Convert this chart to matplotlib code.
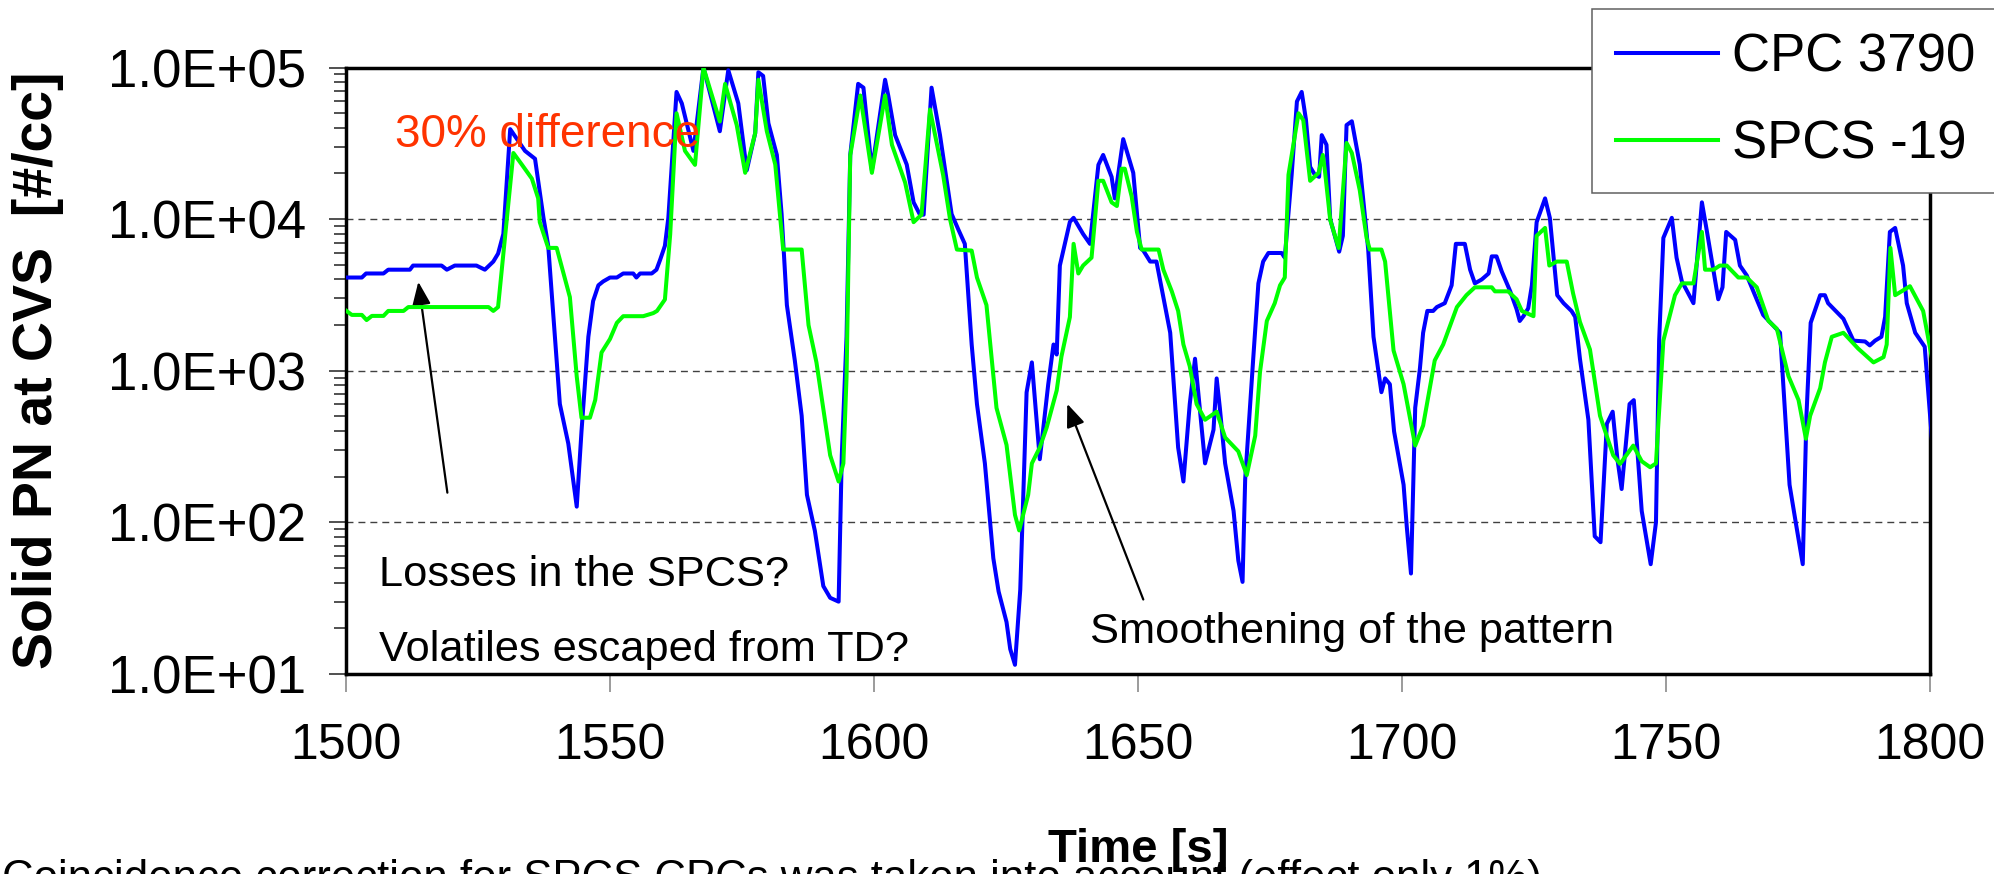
import matplotlib
matplotlib.use("Agg")
import matplotlib.pyplot as plt
from matplotlib.ticker import FixedLocator, LogLocator, FuncFormatter, NullFormatter

plt.rcParams['font.family'] = ['Liberation Sans', 'DejaVu Sans']

# ---- data -------------------------------------------------------------
cpc_time = [
    1500.1, 1503.0, 1503.8, 1507.1, 1508.0, 1512.1, 1512.7, 1518.1, 1519.1, 1520.6,
    1524.7, 1526.3, 1527.9, 1528.8, 1529.8, 1531.1, 1533.9, 1535.8, 1537.4, 1538.3,
    1540.5, 1542.1, 1543.7, 1544.6, 1545.9, 1546.8, 1547.8, 1548.7, 1550.0, 1551.3,
    1552.5, 1554.4, 1555.0, 1555.7, 1557.9, 1558.8, 1559.5, 1560.4, 1561.05, 1562.6,
    1563.6, 1565.8, 1567.7, 1570.8, 1572.4, 1574.3, 1575.9, 1577.5, 1578.1, 1579.0,
    1580.0, 1581.6, 1582.5, 1583.5, 1585.0, 1586.3, 1587.3, 1588.8, 1590.4, 1591.7,
    1593.3, 1593.9, 1594.8, 1595.5, 1597.0, 1598.0, 1599.6, 1602.1, 1602.7, 1604.0,
    1606.2, 1607.5, 1608.7, 1609.4, 1610.9, 1612.5, 1614.7, 1616.0, 1617.2, 1618.5,
    1619.5, 1621.0, 1622.6, 1623.6, 1625.1, 1625.8, 1626.7, 1627.7, 1628.9, 1629.9,
    1631.4, 1633.0, 1634.0, 1634.6, 1635.2, 1637.1, 1637.8, 1639.6, 1640.9, 1642.5,
    1643.4, 1645.0, 1645.6, 1647.2, 1649.1, 1650.4, 1651.0, 1652.3, 1653.5, 1656.1,
    1657.6, 1658.6, 1659.8, 1660.8, 1662.7, 1664.3, 1664.9, 1665.5, 1666.5, 1668.1,
    1669.0, 1669.8, 1670.3, 1671.8, 1672.8, 1673.7, 1674.7, 1677.2, 1677.8, 1679.1,
    1680.1, 1681.0, 1681.8, 1682.6, 1683.5, 1684.3, 1684.8, 1685.7, 1686.4, 1688.1,
    1688.8, 1689.5, 1690.5, 1692.0, 1693.0, 1693.6, 1694.6, 1696.1, 1696.8, 1697.7,
    1698.5, 1700.3, 1700.9, 1701.7, 1702.5, 1703.4, 1704.0, 1704.8, 1705.9, 1706.6,
    1708.1, 1709.4, 1710.2, 1711.9, 1712.9, 1713.8, 1715.1, 1716.4, 1717.0, 1717.9,
    1718.9, 1720.5, 1721.7, 1722.3, 1723.0, 1723.9, 1724.6, 1725.5, 1727.1, 1728.0,
    1729.4, 1730.6, 1732.1, 1732.8, 1733.7, 1735.3, 1736.5, 1737.6, 1738.8, 1739.9,
    1740.8, 1741.6, 1743.1, 1743.9, 1745.4, 1747.1, 1748.1, 1748.7, 1749.5, 1751.1,
    1752.0, 1753.0, 1755.2, 1756.8, 1757.7, 1759.9, 1760.7, 1761.4, 1763.1, 1764.0,
    1765.3, 1768.4, 1771.6, 1772.3, 1773.4, 1774.7, 1775.9, 1776.6, 1777.4, 1779.2,
    1780.1, 1780.7, 1783.6, 1785.5, 1787.7, 1788.6, 1789.6, 1790.8, 1791.5, 1792.4,
    1793.4, 1794.9, 1795.6, 1797.2, 1799.0, 1800.6, 1801.0,
]
cpc_pn = [
    4120, 4120, 4380, 4380, 4640, 4640, 4940, 4940, 4640, 4940,
    4940, 4640, 5250, 5920, 7980, 39200, 28200, 25000, 10200, 6670,
    604, 331, 127, 398, 1675, 2880, 3660, 3880, 4120, 4120,
    4380, 4380, 4120, 4380, 4380, 4640, 5400, 6670, 10200, 69000,
    58000, 28200, 100000, 38000, 96000, 58000, 21000, 36900, 93000, 88000,
    42900, 26500, 10800, 2710, 1170, 505, 152, 88, 38, 31.8,
    30, 277, 1675, 26500, 78000, 73600, 21000, 83000, 65300, 35800,
    22900, 12900, 10700, 10700, 73600, 35800, 10800, 8500, 6870, 1490,
    603, 245, 58, 35, 22, 14.6, 11.5, 36, 720, 1135,
    261, 815, 1490, 1280, 4940, 9600, 10200, 7980, 6870, 22800,
    26500, 19000, 13700, 33700, 20200, 6460, 6210, 5250, 5250, 1780,
    312, 186, 603, 1200, 245, 408, 890, 569, 245, 119,
    56, 40.5, 193, 1170, 3770, 5250, 5980, 5980, 5570, 19600,
    59700, 69000, 45500, 22100, 19600, 19000, 35800, 30900, 10000, 6100,
    7760, 41700, 44200, 22900, 10200, 6300, 1675, 722, 890, 815,
    398, 177, 94, 46, 570, 1040, 1780, 2480, 2480, 2630,
    2790, 3660, 6870, 6870, 4640, 3770, 4000, 4380, 5680, 5680,
    4510, 3340, 2550, 2130, 2290, 2580, 3660, 9550, 13700, 10200,
    3150, 2790, 2480, 2265, 1200, 475, 81, 74, 447, 537,
    261, 166, 603, 640, 119, 53, 100, 1580, 7520, 10200,
    5570, 3890, 2790, 12900, 8500, 2960, 3550, 8230, 7300, 4940,
    4250, 2335, 1780, 720, 177, 94, 53, 505, 2070, 3150,
    3150, 2790, 2200, 1580, 1560, 1470, 1580, 1675, 2265, 8230,
    8750, 4940, 2790, 1780, 1440, 277, 250,
]

spcs_time = [
    1500.1, 1501.1, 1503.0, 1503.9, 1504.9, 1507.1, 1508.0, 1510.9, 1511.8, 1527.0,
    1527.9, 1528.8, 1531.7, 1533.3, 1535.2, 1536.4, 1536.7, 1538.3, 1539.9, 1540.8,
    1542.4, 1543.7, 1544.6, 1546.2, 1547.2, 1548.4, 1550.0, 1551.3, 1552.5, 1556.3,
    1558.2, 1558.9, 1560.4, 1561.4, 1562.6, 1564.2, 1566.1, 1567.7, 1570.8, 1571.8,
    1574.0, 1575.6, 1577.5, 1578.1, 1579.7, 1581.3, 1582.8, 1586.3, 1587.6, 1589.1,
    1591.7, 1593.3, 1594.2, 1594.8, 1595.5, 1597.4, 1599.6, 1602.1, 1603.4, 1605.9,
    1607.5, 1609.0, 1610.6, 1613.1, 1614.4, 1615.7, 1618.5, 1619.5, 1621.3, 1623.2,
    1625.1, 1626.7, 1627.5, 1629.2, 1629.9, 1631.4, 1632.7, 1634.6, 1635.5, 1637.1,
    1637.8, 1638.7, 1639.6, 1641.2, 1642.5, 1643.4, 1645.0, 1646.0, 1646.9, 1647.5,
    1648.8, 1649.8, 1650.7, 1653.9, 1654.8, 1656.4, 1657.6, 1658.6, 1659.8, 1661.1,
    1662.7, 1664.9, 1666.5, 1669.0, 1670.6, 1672.2, 1673.1, 1674.4, 1675.9, 1676.9,
    1677.8, 1678.5, 1680.4, 1681.3, 1682.6, 1684.2, 1685.0, 1685.4, 1686.4, 1688.0,
    1689.5, 1690.5, 1692.0, 1693.3, 1693.9, 1696.1, 1696.8, 1698.4, 1700.3, 1702.5,
    1704.0, 1706.2, 1707.8, 1710.4, 1712.2, 1713.8, 1717.0, 1717.6, 1720.1, 1721.7,
    1722.7, 1724.9, 1725.5, 1727.1, 1727.9, 1729.3, 1731.2, 1732.4, 1733.7, 1735.6,
    1737.5, 1740.0, 1741.3, 1743.8, 1745.4, 1747.0, 1748.1, 1749.5, 1751.7, 1753.0,
    1755.2, 1756.8, 1757.4, 1759.0, 1760.2, 1761.5, 1763.7, 1765.3, 1767.2, 1769.4,
    1771.0, 1773.2, 1775.1, 1776.5, 1777.3, 1779.2, 1780.1, 1781.4, 1783.6, 1786.4,
    1789.3, 1791.2, 1791.8, 1792.5, 1793.4, 1796.2, 1798.7, 1800.6,
]
spcs_pn = [
    2480, 2335, 2335, 2160, 2300, 2300, 2480, 2480, 2630, 2630,
    2480, 2630, 27300, 22900, 18500, 13700, 9550, 6460, 6460, 4940,
    3060, 916, 490, 490, 641, 1320, 1620, 2070, 2290, 2290,
    2400, 2480, 2950, 7940, 49900, 28200, 22800, 100000, 44000, 78000,
    41700, 20200, 36900, 83000, 38000, 22900, 6300, 6300, 2000, 1135,
    277, 186, 245, 912, 26300, 65400, 20200, 65400, 30900, 17400,
    9550, 10700, 52800, 19500, 10000, 6300, 6200, 4120, 2710, 569,
    324, 112, 88.5, 152, 245, 312, 422, 741, 1240, 2260,
    6870, 4380, 4940, 5570, 17900, 17900, 12900, 12200, 21500, 21500,
    14100, 8230, 6300, 6300, 4640, 3340, 2480, 1490, 1070, 603,
    475, 537, 363, 294, 205, 373, 977, 2130, 2790, 3660,
    4120, 19600, 49900, 45000, 17900, 20200, 26500, 20900, 9900, 6450,
    31800, 27300, 15500, 7500, 6300, 6300, 5250, 1360, 815, 321,
    435, 1170, 1490, 2630, 3150, 3550, 3550, 3340, 3340, 2960,
    2480, 2290, 7760, 8750, 4940, 5250, 5250, 3240, 2100, 1380,
    505, 277, 243, 321, 253, 231, 245, 1580, 3150, 3770,
    3770, 8230, 4640, 4640, 4940, 4940, 4120, 4120, 3550, 2130,
    1890, 920, 641, 356, 505, 768, 1135, 1675, 1780, 1400,
    1135, 1230, 1490, 6460, 3150, 3610, 2480, 1100,
]

x_ticks = [1500, 1550, 1600, 1650, 1700, 1750, 1800]
y_ticks = [1e1, 1e2, 1e3, 1e4, 1e5]
series_labels = ["CPC 3790", "SPCS -19"]

# ---- figure -----------------------------------------------------------
W, H = 1994, 874
fig = plt.figure(figsize=(W / 100, H / 100), dpi=100)


def fpos(x, y):
    """figure-pixel position (from top-left) -> figure fraction"""
    return x / W, 1 - y / H


ax_l, ax_r, ax_t, ax_b = 346, 1930, 67.5, 674
ax = fig.add_axes([ax_l / W, 1 - ax_b / H, (ax_r - ax_l) / W, (ax_b - ax_t) / H])

l1, = ax.plot(cpc_time, cpc_pn, color="#0000ff", lw=2.9, label=series_labels[0], zorder=3)
l2, = ax.plot(spcs_time, spcs_pn, color="#00ff00", lw=2.9, label=series_labels[1], zorder=4)

ax.set_yscale("log")
ax.set_xlim(1500, 1800)
ax.set_ylim(10, 1e5)

ax.xaxis.set_major_locator(FixedLocator(x_ticks))
ax.yaxis.set_major_locator(FixedLocator(y_ticks))
ax.yaxis.set_minor_locator(LogLocator(base=10, subs=range(2, 10)))
ax.yaxis.set_minor_formatter(NullFormatter())
ax.yaxis.set_major_formatter(FuncFormatter(lambda v, _: f"{v:.1E}"))

ax.tick_params(axis="x", which="major", direction="out", length=13, width=1.1,
               color="#808080", labelsize=36, pad=22)
ax.tick_params(axis="y", which="major", direction="out", length=12, width=1.1,
               color="#202020", labelsize=38, pad=17)
ax.tick_params(axis="y", which="minor", direction="out", length=8.5, width=1.1,
               color="#202020")

for sp in ax.spines.values():
    sp.set_linewidth(2.5)
    sp.set_color("black")

ax.yaxis.grid(True, which="major", color="#404040", lw=1.0, dashes=(5, 3.6))
ax.set_axisbelow(True)

# axis titles
fig.text(*fpos(38, 370), "Solid PN at CVS  [#/cc]", rotation=90, ha="center",
         va="center", fontsize=40, fontweight="bold")
fig.text(*fpos(1138, 862), "Time [s]", ha="center", va="baseline",
         fontsize=34, fontweight="bold")

# annotations
fig.text(*fpos(395, 147), "30% difference", color="#ff3300", fontsize=33,
         va="baseline", ha="left")
fig.text(*fpos(379, 586), "Losses in the SPCS?", fontsize=31.2, va="baseline")
fig.text(*fpos(379, 661), "Volatiles escaped from TD?", fontsize=31.2, va="baseline")
fig.text(*fpos(1090, 643), "Smoothening of the pattern", fontsize=31.2, va="baseline")

arrow_style = dict(arrowstyle="-|>,head_length=0.7,head_width=0.28", color="black",
                   lw=1.6, shrinkA=0, shrinkB=0, mutation_scale=20)
ax.annotate("", xy=(1513.7, 3860), xytext=(1519.2, 157), arrowprops=arrow_style)
ax.annotate("", xy=(1636.6, 605), xytext=(1651.0, 31), arrowprops=arrow_style)

fig.text(*fpos(2, 891), "Coincidence correction for SPCS CPCs was taken into account (effect only 1%)",
         fontsize=31.5, va="baseline", ha="left")

leg = fig.legend(handles=[l1, l2], loc="upper left", bbox_to_anchor=fpos(1592, 9),
                 bbox_transform=fig.transFigure, fontsize=38, frameon=True,
                 fancybox=False, borderaxespad=0, borderpad=0.45, handlelength=1.94,
                 handletextpad=0.26, labelspacing=0.7)
leg.get_frame().set_edgecolor("#606060")
leg.get_frame().set_linewidth(1.1)
leg.get_frame().set_alpha(1)

fig.savefig("out.png", dpi=100)
